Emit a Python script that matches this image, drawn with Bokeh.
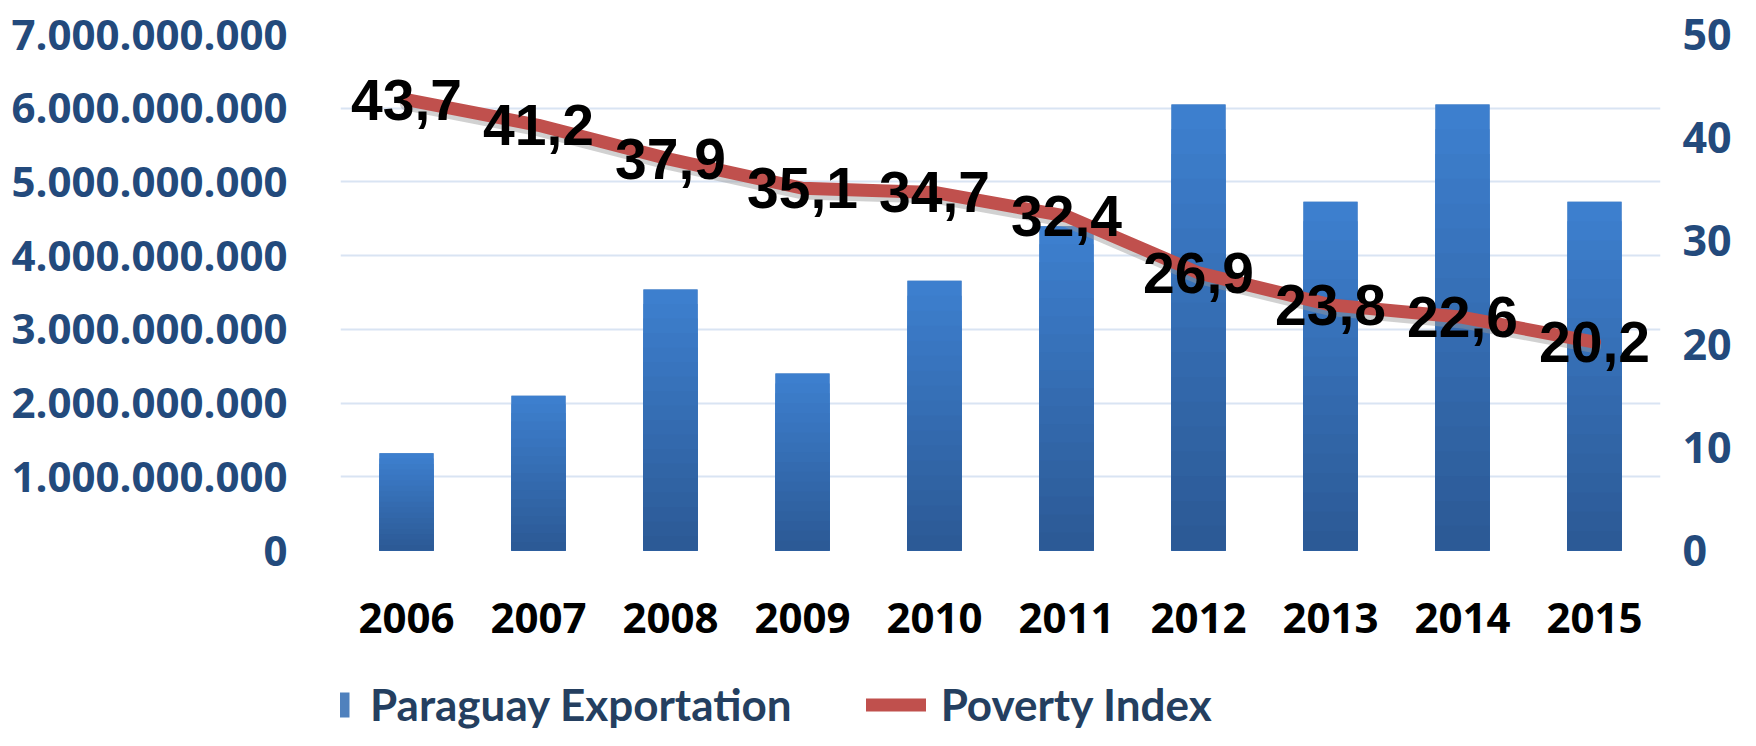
from bokeh.plotting import figure
from bokeh.layouts import column
from bokeh.models import (Range1d, LinearAxis, FixedTicker, Legend, LegendItem,
                          FactorRange)
from bokeh.core.properties import value
from bokeh.embed import file_html
from bokeh.resources import INLINE

years = ["2006", "2007", "2008", "2009", "2010", "2011", "2012", "2013", "2014", "2015"]
exports = [1.32e9, 2.10e9, 3.54e9, 2.40e9, 3.66e9, 4.40e9, 6.05e9, 4.73e9, 6.05e9, 4.73e9]
poverty = [43.7, 41.2, 37.9, 35.1, 34.7, 32.4, 26.9, 23.8, 22.6, 20.2]
left_ticks = [0, 1000000000, 2000000000, 3000000000, 4000000000, 5000000000, 6000000000, 7000000000]
right_ticks = [0, 10, 20, 30, 40, 50]
series_names = ["Paraguay Exportation", "Poverty Index"]

AXIS_BLUE = "#234a7c"
TICK_FONT = "Open Sans"
BAR_COLOR = "#4f81bd"
LINE_COLOR = "#c0504d"

p = figure(x_range=FactorRange(*years, range_padding=0), y_range=Range1d(0, 7e9),
           frame_width=1320, frame_height=516,
           min_border_left=340, min_border_right=80, min_border_top=34, min_border_bottom=110,
           output_backend="svg", toolbar_location=None)
p.outline_line_color = None
p.background_fill_color = "white"
p.xgrid.grid_line_color = None
p.ygrid.grid_line_color = "#d9e4f3"
p.ygrid.grid_line_width = 2
p.ygrid.ticker = FixedTicker(ticks=left_ticks)

p.extra_y_ranges = {"right": Range1d(0, 50), "shadow": Range1d(0.45, 50.45)}

# left axis
ya = p.yaxis[0]
ya.ticker = FixedTicker(ticks=left_ticks)
ya.major_label_overrides = {t: f"{t:,}".replace(",", ".") for t in left_ticks}
# x axis
xa = p.xaxis[0]
for ax in (ya, xa):
    ax.axis_line_color = None
    ax.major_tick_line_color = None
    ax.minor_tick_line_color = None
    ax.major_label_text_font = TICK_FONT
    ax.major_label_text_font_style = "bold"
ya.major_label_text_font_size = "42px"
ya.major_label_text_color = AXIS_BLUE
ya.major_label_standoff = 47
xa.major_label_text_font_size = "42px"
xa.major_label_text_color = "black"
xa.major_label_standoff = 46

ra = LinearAxis(y_range_name="right", ticker=FixedTicker(ticks=right_ticks))
ra.axis_line_color = None
ra.major_tick_line_color = None
ra.minor_tick_line_color = None
ra.major_label_text_font = TICK_FONT
ra.major_label_text_font_style = "bold"
ra.major_label_text_font_size = "43px"
ra.major_label_text_color = AXIS_BLUE
ra.major_label_standoff = 16
p.add_layout(ra, "right")

# bars: base colour then a vertical gradient built from nested bars
BAR_W = 0.41
p.vbar(x=years, top=exports, width=BAR_W, fill_color=BAR_COLOR, line_color=None)
top_rgb = (0x3d, 0x7f, 0xce)
bot_rgb = (0x2c, 0x5a, 0x96)
N = 18
for k in range(N):
    frac = (N - k) / N
    t = k / (N - 1)
    rgb = tuple(int(round(a + (b - a) * t)) for a, b in zip(top_rgb, bot_rgb))
    col = "#%02x%02x%02x" % rgb
    p.vbar(x=years, top=[v * frac for v in exports], width=BAR_W, fill_color=col, line_color=None)

# poverty line with soft shadow
p.line(x=years, y=poverty, y_range_name="shadow", line_color="#9a9a9a", line_alpha=0.45,
       line_width=13, line_join="round", line_cap="round")
p.line(x=years, y=poverty, y_range_name="right", line_color=LINE_COLOR,
       line_width=13, line_join="round", line_cap="round")

labels = [f"{v:.1f}".replace(".", ",") for v in poverty]
p.text(x=years, y=poverty, text=labels, y_range_name="right",
       text_align="center", text_baseline="middle",
       text_font=value("Liberation Sans"),
       text_font_style="bold", text_font_size="57px", text_color="black")

# legend strip below the chart (its series are hidden; only the legend shows)
lg = figure(width=1740, height=70, x_range=FactorRange(*years, range_padding=0),
            y_range=Range1d(0, 7e9), x_axis_type=None, y_axis_type=None, min_border=0,
            output_backend="svg", toolbar_location=None)
lg.outline_line_color = None
lg.background_fill_color = "white"
lg.border_fill_color = "white"
r_bar = lg.varea(x=years, y1=[0] * len(exports), y2=exports, fill_color=BAR_COLOR)
r_line = lg.line(x=years, y=poverty, line_color=LINE_COLOR, line_width=13, line_cap="round")
r_bar.visible = False
r_line.visible = False
legend = Legend(items=[LegendItem(label=series_names[0], renderers=[r_bar]),
                       LegendItem(label=series_names[1], renderers=[r_line])],
                orientation="horizontal", location=(-45, 0),
                glyph_width=60, glyph_height=31, label_standoff=15, spacing=74,
                padding=0, margin=0, border_line_color=None, background_fill_alpha=0,
                label_text_font="Lato", label_text_font_style="bold",
                label_text_font_size="44px", label_text_color="#243f60")
lg.add_layout(legend)

open("out.html", "w").write(file_html(column(p, lg, spacing=0), INLINE))
